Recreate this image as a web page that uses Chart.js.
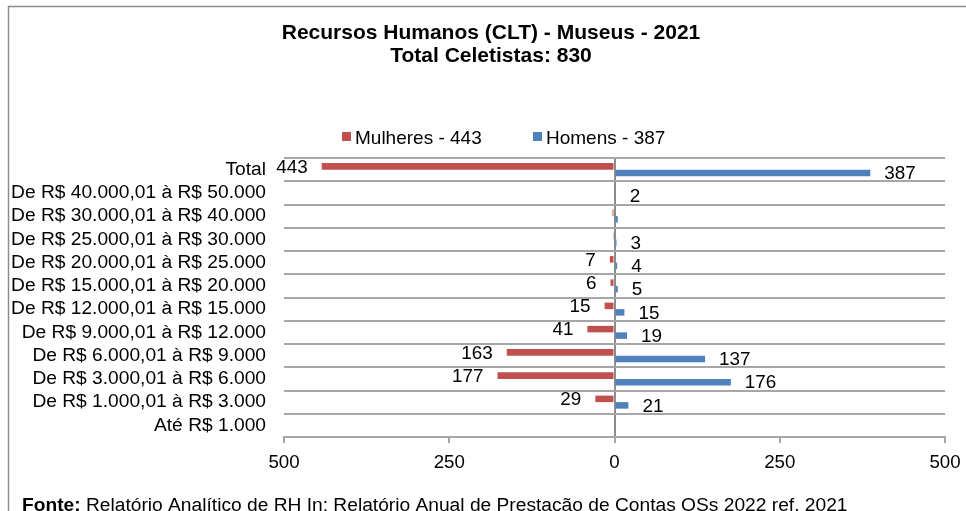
<!DOCTYPE html>
<html>
<head>
<meta charset="utf-8">
<script src="https://cdn.jsdelivr.net/npm/chart.js@4/dist/chart.umd.min.js"></script>
<style>
  html, body { margin: 0; padding: 0; background: #ffffff; }
  canvas { display: block; }
</style>
</head>
<body>
<canvas id="c" width="966" height="511"></canvas>
<script>
const titleLines = ['Recursos Humanos (CLT) - Museus - 2021', 'Total Celetistas: 830'];
const categories = [
  'Total',
  'De R$ 40.000,01 à R$ 50.000',
  'De R$ 30.000,01 à R$ 40.000',
  'De R$ 25.000,01 à R$ 30.000',
  'De R$ 20.000,01 à R$ 25.000',
  'De R$ 15.000,01 à R$ 20.000',
  'De R$ 12.000,01 à R$ 15.000',
  'De R$ 9.000,01 à R$ 12.000',
  'De R$ 6.000,01 à R$ 9.000',
  'De R$ 3.000,01 à R$ 6.000',
  'De R$ 1.000,01 à R$ 3.000',
  'Até R$ 1.000'
];
const mulheres = [443, 0, 3, 2, 7, 6, 15, 41, 163, 177, 29, 0];
const homens   = [387, 2, 5, 3, 4, 5, 15, 19, 137, 176, 21, 0];
const unlabeledMulheres = [1, 2, 3, 11];
const unlabeledHomens = [2, 11];
const xTickValues = [-500, -250, 0, 250, 500];
const sourceBold = 'Fonte:';
const sourceText = ' Relatório Analítico de RH In: Relatório Anual de Prestação de Contas OSs 2022 ref. 2021';

const FONT = '"Liberation Sans", Arial, sans-serif';
const RED = '#C0504D';
const BLUE = '#4F81BD';
const GRID = '#a6a6a6';

const decor = {
  id: 'decor',
  beforeDraw(chart) {
    const ctx = chart.ctx;
    ctx.save();
    ctx.strokeStyle = '#8c8c8c';
    ctx.lineWidth = 1.5;
    ctx.beginPath();
    ctx.moveTo(8.5, 520);
    ctx.lineTo(8.5, 6.5);
    ctx.lineTo(980, 6.5);
    ctx.stroke();
    ctx.restore();
  },
  afterDraw(chart) {
    const ctx = chart.ctx;
    ctx.save();
    ctx.fillStyle = '#000';
    ctx.textBaseline = 'alphabetic';
    // title
    ctx.font = 'bold 21px ' + FONT;
    ctx.textAlign = 'center';
    ctx.fillText(titleLines[0], 491, 38.5);
    ctx.fillText(titleLines[1], 491, 61.5);
    // legend
    ctx.font = '19px ' + FONT;
    ctx.textAlign = 'left';
    const legendX = [342, 533];
    chart.data.datasets.forEach((ds, i) => {
      ctx.fillStyle = ds.backgroundColor;
      ctx.fillRect(legendX[i], 132, 9, 9);
      ctx.fillStyle = '#000';
      ctx.fillText(ds.label, legendX[i] + 13, 144);
    });
    // footer
    ctx.font = 'bold 19.2px ' + FONT;
    ctx.fillText(sourceBold, 22, 511);
    const w = ctx.measureText(sourceBold).width;
    ctx.font = '19.2px ' + FONT;
    ctx.fillText(sourceText, 22 + w, 511);
    ctx.restore();
  },
  afterDatasetsDraw(chart) {
    const ctx = chart.ctx;
    ctx.save();
    ctx.font = '18.9px ' + FONT;
    ctx.fillStyle = '#000';
    ctx.textBaseline = 'middle';
    const hidden = [unlabeledMulheres, unlabeledHomens];
    chart.data.datasets.forEach((ds, di) => {
      const meta = chart.getDatasetMeta(di);
      meta.data.forEach((bar, i) => {
        if (hidden[di].includes(i)) return;
        const v = ds.data[i];
        if (v < 0) {
          ctx.textAlign = 'right';
          ctx.fillText(String(Math.abs(v)), bar.x - 14, bar.y + 1);
        } else {
          ctx.textAlign = 'left';
          ctx.fillText(String(Math.abs(v)), bar.x + 14, bar.y + 1);
        }
      });
    });
    ctx.restore();
  }
};

new Chart(document.getElementById('c'), {
  type: 'bar',
  data: {
    labels: categories,
    datasets: [
      {
        label: 'Mulheres - ' + mulheres[0],
        data: mulheres.map(v => -v),
        backgroundColor: RED,
        categoryPercentage: 0.56,
        barPercentage: 1.0
      },
      {
        label: 'Homens - ' + homens[0],
        data: homens,
        backgroundColor: BLUE,
        categoryPercentage: 0.56,
        barPercentage: 1.0
      }
    ]
  },
  options: {
    indexAxis: 'y',
    responsive: false,
    animation: false,
    devicePixelRatio: 1,
    layout: { padding: { left: 8, right: 21, top: 158, bottom: 0 } },
    plugins: {
      legend: { display: false },
      title: { display: false },
      tooltip: { enabled: false }
    },
    scales: {
      x: {
        type: 'linear',
        min: -500,
        max: 500,
        afterBuildTicks: (s) => { s.ticks = xTickValues.map(v => ({ value: v })); },
        afterFit: (s) => { s.height = 74; s.paddingRight = 0; s.paddingLeft = 0; },
        ticks: {
          callback: (v) => String(Math.abs(v)),
          font: { family: FONT, size: 18.7 },
          color: '#000',
          padding: 9,
          maxRotation: 0
        },
        grid: {
          color: (c) => (c.tick && c.tick.value === 0) ? '#8c8c8c' : 'rgba(0,0,0,0)',
          lineWidth: 2,
          tickColor: GRID,
          tickLength: 6,
          tickWidth: 2
        },
        border: { display: true, color: GRID, width: 2 }
      },
      y: {
        type: 'category',
        afterFit: (s) => { s.width = 276; },
        ticks: {
          font: { family: FONT, size: 19.2 },
          color: '#000',
          padding: 18,
          autoSkip: false
        },
        grid: {
          offset: true,
          color: GRID,
          lineWidth: 2,
          drawTicks: false
        },
        border: { display: false }
      }
    }
  },
  plugins: [decor]
});
</script>
</body>
</html>
